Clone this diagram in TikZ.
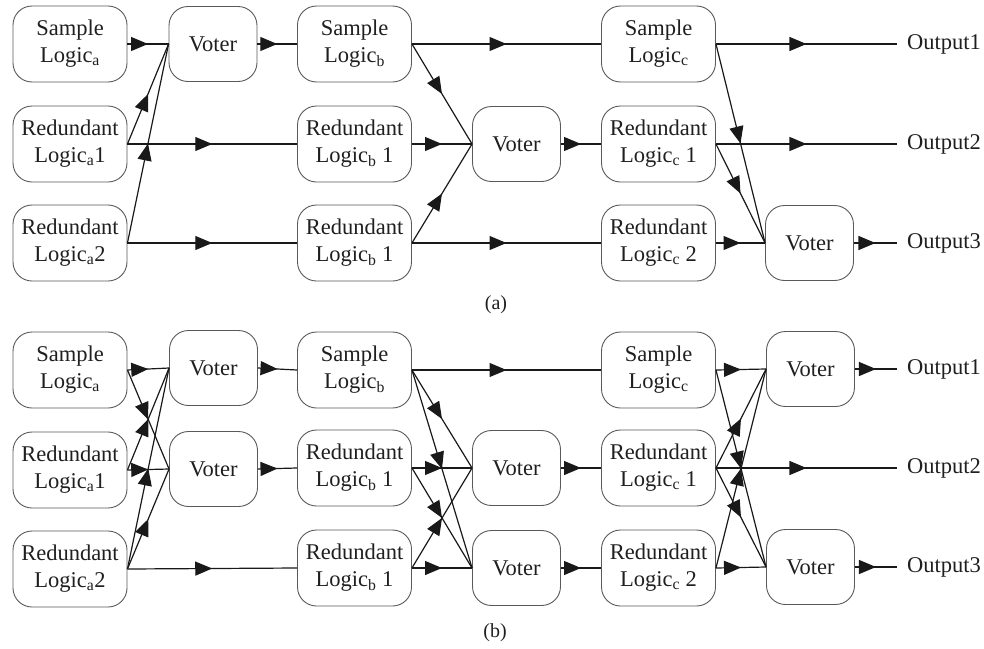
\documentclass[tikz,border=0pt]{standalone}
\usepackage{fontspec}
\setmainfont{Liberation Serif}
\usetikzlibrary{arrows.meta,decorations.markings}
\tikzset{
  blk/.style={draw=black!65, line width=0.9pt, rounded corners=19pt, minimum width=114pt, minimum height=76pt, inner sep=0pt, align=center, text=black!88, font=\fontsize{22.5}{27}\selectfont},
  vot/.style={blk, minimum width=88pt, minimum height=75pt},
  outlbl/.style={anchor=west, inner xsep=10pt, inner ysep=0pt, text=black!88, font=\fontsize{22.5}{27}\selectfont},
  captxt/.style={text=black!88, font=\fontsize{20}{24}\selectfont},
  con/.style={line width=1.2pt, draw=black!90, decoration={markings, mark=at position 0.5 with {\arrow{Triangle[length=17pt,width=14pt]}}}, postaction={decorate}},
}
\begin{document}
\begin{tikzpicture}[x=1pt,y=-1pt]
\useasboundingbox (0,0) rectangle (984,648);
% ---------------- (a) ----------------
\node[blk] (sa) at (70,44) {Sample\\Logic\textsubscript{a}};
\node[blk] (ra1) at (70,144) {Redundant\\Logic\textsubscript{a}1};
\node[blk] (ra2) at (70,243) {Redundant\\Logic\textsubscript{a}2};
\node[vot] (va) at (213,44) {Voter};
\node[blk] (sb) at (354.5,44) {Sample\\Logic\textsubscript{b}};
\node[blk] (rb1) at (354.5,144) {Redundant\\Logic\textsubscript{b} 1};
\node[blk] (rb2) at (354.5,243) {Redundant\\Logic\textsubscript{b} 1};
\node[vot] (vb) at (516.5,144) {Voter};
\node[blk] (sc) at (658.5,44) {Sample\\Logic\textsubscript{c}};
\node[blk] (rc1) at (658.5,144) {Redundant\\Logic\textsubscript{c} 1};
\node[blk] (rc2) at (658.5,243) {Redundant\\Logic\textsubscript{c} 2};
\node[vot] (vc) at (809.5,243) {Voter};
\node[outlbl] (o1) at (897,44) {Output1};
\node[outlbl] (o2) at (897,144) {Output2};
\node[outlbl] (o3) at (897,243) {Output3};
\node[captxt] (capa) at (496,305) {(a)};

\draw[con] (sa.east) -- (va.west);
\draw[con] (ra1.east) -- (va.west);
\draw[con] (ra2.east) -- (va.west);
\draw[con] (ra1.east) -- (rb1.west);
\draw[con] (ra2.east) -- (rb2.west);
\draw[con] (va.east) -- (sb.west);
\draw[con] (sb.east) -- (sc.west);
\draw[con] (sb.east) -- (vb.west);
\draw[con] (rb1.east) -- (vb.west);
\draw[con] (rb2.east) -- (vb.west);
\draw[con] (rb2.east) -- (rc2.west);
\draw[con] (vb.east) -- (rc1.west);
\draw[con] (sc.east) -- (o1.west);
\draw[con] (sc.east) -- (vc.west);
\draw[con] (rc1.east) -- (o2.west);
\draw[con] (rc1.east) -- (vc.west);
\draw[con] (rc2.east) -- (vc.west);
\draw[con] (vc.east) -- (o3.west);

% ---------------- (b) ----------------
\node[blk] (Sa) at (70,370) {Sample\\Logic\textsubscript{a}};
\node[blk] (Ra1) at (70,470) {Redundant\\Logic\textsubscript{a}1};
\node[blk] (Ra2) at (70,569) {Redundant\\Logic\textsubscript{a}2};
\node[vot] (Va1) at (213.5,368) {Voter};
\node[vot] (Va2) at (213.5,469) {Voter};
\node[blk] (Sb) at (354.5,370) {Sample\\Logic\textsubscript{b}};
\node[blk] (Rb1) at (354.5,468) {Redundant\\Logic\textsubscript{b} 1};
\node[blk] (Rb2) at (354.5,568) {Redundant\\Logic\textsubscript{b} 1};
\node[vot] (Vb2) at (516.5,468) {Voter};
\node[vot] (Vb3) at (516.5,568) {Voter};
\node[blk] (Sc) at (658.5,370) {Sample\\Logic\textsubscript{c}};
\node[blk] (Rc1) at (658.5,468) {Redundant\\Logic\textsubscript{c} 1};
\node[blk] (Rc2) at (658.5,568) {Redundant\\Logic\textsubscript{c} 2};
\node[vot] (Vc1) at (810.5,369) {Voter};
\node[vot] (Vc3) at (810.5,567) {Voter};
\node[outlbl] (O1) at (897,369) {Output1};
\node[outlbl] (O2) at (897,468) {Output2};
\node[outlbl] (O3) at (897,567) {Output3};
\node[captxt] (capb) at (495,633) {(b)};

\draw[con] (Sa.east) -- (Va1.west);
\draw[con] (Sa.east) -- (Va2.west);
\draw[con] (Ra1.east) -- (Va1.west);
\draw[con] (Ra1.east) -- (Va2.west);
\draw[con] (Ra2.east) -- (Va1.west);
\draw[con] (Ra2.east) -- (Va2.west);
\draw[con] (Ra2.east) -- (Rb2.west);
\draw[con] (Va1.east) -- (Sb.west);
\draw[con] (Va2.east) -- (Rb1.west);
\draw[con] (Sb.east) -- (Sc.west);
\draw[con] (Sb.east) -- (Vb2.west);
\draw[con] (Sb.east) -- (Vb3.west);
\draw[con] (Rb1.east) -- (Vb2.west);
\draw[con] (Rb1.east) -- (Vb3.west);
\draw[con] (Rb2.east) -- (Vb2.west);
\draw[con] (Rb2.east) -- (Vb3.west);
\draw[con] (Vb2.east) -- (Rc1.west);
\draw[con] (Vb3.east) -- (Rc2.west);
\draw[con] (Sc.east) -- (Vc1.west);
\draw[con] (Sc.east) -- (Vc3.west);
\draw[con] (Rc1.east) -- (Vc1.west);
\draw[con] (Rc1.east) -- (O2.west);
\draw[con] (Rc1.east) -- (Vc3.west);
\draw[con] (Rc2.east) -- (Vc1.west);
\draw[con] (Rc2.east) -- (Vc3.west);
\draw[con] (Vc1.east) -- (O1.west);
\draw[con] (Vc3.east) -- (O3.west);
\end{tikzpicture}
\end{document}
